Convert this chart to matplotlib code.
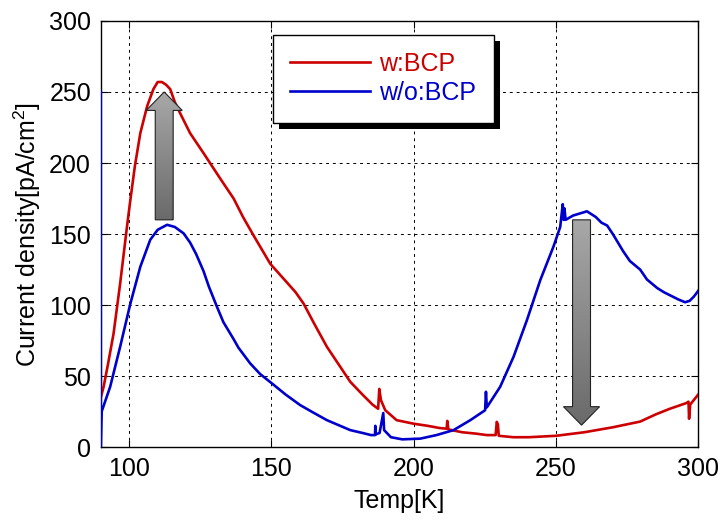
import numpy as np
import matplotlib
matplotlib.use("Agg")
import matplotlib.pyplot as plt
from matplotlib.patches import FancyArrow, Rectangle
from matplotlib.colors import LinearSegmentedColormap
from matplotlib.transforms import IdentityTransform

plt.rcParams['font.family'] = ['Liberation Sans', 'DejaVu Sans']
plt.rcParams['mathtext.fontset'] = 'custom'
plt.rcParams['mathtext.rm'] = 'Liberation Sans'
plt.rcParams['mathtext.it'] = 'Liberation Sans'

# w:BCP (red)
red_x = [90, 91, 92.5, 94.5, 96.8, 99.2, 100.4, 102, 103.9, 106.3, 108.5, 110,
         111.5, 113, 114.4, 116, 117.9, 121.4, 126.1, 132, 136.7, 140, 143.7,
         149.6, 155.4, 158.5, 161.3, 165, 169.5, 171.7, 177.7, 182, 185.5, 187.5,
         187.9, 188.5, 190, 194, 200, 205, 209, 211.6, 211.8, 212.2, 217, 222,
         225.7, 228.8, 229.2, 229.6, 229.9, 235, 240.5, 250, 260, 270, 279.6,
         285, 290, 295.8, 296.6, 296.8, 297.2, 300]
red_y = [35, 42.5, 58, 80, 115, 155, 174, 198, 221, 240, 252, 257,
         257, 255, 252, 243, 235, 221, 207, 189, 175, 162, 149,
         129, 116, 109, 101, 87, 70.6, 64, 46, 37, 30, 27,
         41, 33, 26, 19, 16.5, 15, 13.5, 13, 18.5, 12.5, 10.5, 9.5,
         8.5, 8.5, 17.8, 16, 8, 7, 7, 8, 10.5, 14, 18,
         23, 27, 31, 32, 20, 30, 37]

# w/o:BCP (blue)
blue_x = [90, 90, 90.2, 90.3, 93.3, 96.8, 100.4, 103.9, 107.4, 110, 113.3, 116,
          119.1, 121.4, 123.5, 126.1, 128, 129.6, 130.8, 133.1, 136.7, 138.4,
          142.5, 146, 150.7, 155, 160.1, 165, 169.5, 177.7, 182, 185, 186.4,
          186.5, 186.7, 188, 189.3, 189.6, 192, 196, 202.3, 208, 214, 219.9,
          225.1, 225.4, 225.7, 230.4, 235.1, 239.8, 244.5, 249.1, 251.5, 252.4,
          252.7, 253, 253.4, 256, 260.9, 264, 266, 268, 270, 273.6, 276, 279.6,
          282, 285.6, 288, 291, 293, 295.4, 297, 298.5, 300]
blue_y = [250, 0, 18, 25, 42.5, 70.6, 101, 127, 146, 153, 156.5, 155,
          150.5, 144, 136, 124, 113, 105, 99, 88, 76, 70,
          59, 51.5, 44, 37, 29.6, 24, 19, 12, 10, 8.5, 8.5,
          15, 9, 10, 24, 12, 7, 5.5, 6, 8.5, 12, 19,
          26, 39, 28, 42.5, 63.6, 89.4, 117.6, 141, 155, 171,
          160, 168, 160, 163, 166, 162, 158, 156, 150, 138, 131, 125,
          118, 112, 109, 106, 104, 102, 103, 106, 110]

x_ticks = [100, 150, 200, 250, 300]
y_ticks = [0, 50, 100, 150, 200, 250, 300]

# arrows: (x, y_start, y_end)
arrow_up = (112.3, 160, 250)
arrow_down = (259, 160, 15.5)

fig = plt.figure(figsize=(7.25, 5.23), dpi=100)
ax = fig.add_axes([0.139, 0.145, 0.824, 0.815])

ax.plot(red_x, red_y, color='#cc0000', lw=1.9, label='w:BCP', zorder=3)
ax.plot(blue_x, blue_y, color='#0000cc', lw=1.9, label='w/o:BCP', zorder=3)

grey = LinearSegmentedColormap.from_list('grey', ['#a8a8a8', '#6a6a6a'])
grad = np.linspace(0, 1, 256).reshape(-1, 1)
for ax_x, y0, y1 in [arrow_up, arrow_down]:
    arr = FancyArrow(ax_x, y0, 0, y1 - y0, width=6.3, head_width=12.7,
                     head_length=13, length_includes_head=True,
                     facecolor='none', edgecolor='#222222', lw=0.8, zorder=5)
    ax.add_patch(arr)
    im = ax.imshow(grad, cmap=grey, aspect='auto',
                   extent=[ax_x - 7, ax_x + 7, min(y0, y1), max(y0, y1)],
                   origin='upper', zorder=4)
    im.set_clip_path(arr)

ax.set_xlim(90, 300)
ax.set_ylim(0, 300)
ax.set_xticks(x_ticks)
ax.set_yticks(y_ticks)
ax.tick_params(direction='in', length=5, width=0.8, labelsize=18,
               top=True, right=True, pad=7, colors='black')
ax.grid(True, color='black', linestyle=(0, (3, 4)), linewidth=0.7)
for s in ax.spines.values():
    s.set_linewidth(1.0)

ax.set_xlabel('Temp[K]', fontsize=18, labelpad=6)
ax.set_ylabel(r'Current density[pA/cm$^2$]', fontsize=18, labelpad=4)

leg = ax.legend(loc='upper left', bbox_to_anchor=(0.288, 0.968), fontsize=18,
                frameon=True, fancybox=False, edgecolor='black', framealpha=1,
                labelcolor='linecolor', handlelength=3.2, handletextpad=0.35,
                borderpad=0.7, labelspacing=0.2, borderaxespad=0)
leg.get_frame().set_linewidth(1.0)
leg.set_zorder(6)

# black drop shadow behind the legend box
fig.canvas.draw()
bb = leg.get_window_extent()
shadow = Rectangle((bb.x0 + 6, bb.y0 - 6), bb.width, bb.height,
                   facecolor='black', edgecolor='none',
                   transform=IdentityTransform(), zorder=5.9, clip_on=False)
ax.add_patch(shadow)

fig.savefig('out.png', dpi=100)
